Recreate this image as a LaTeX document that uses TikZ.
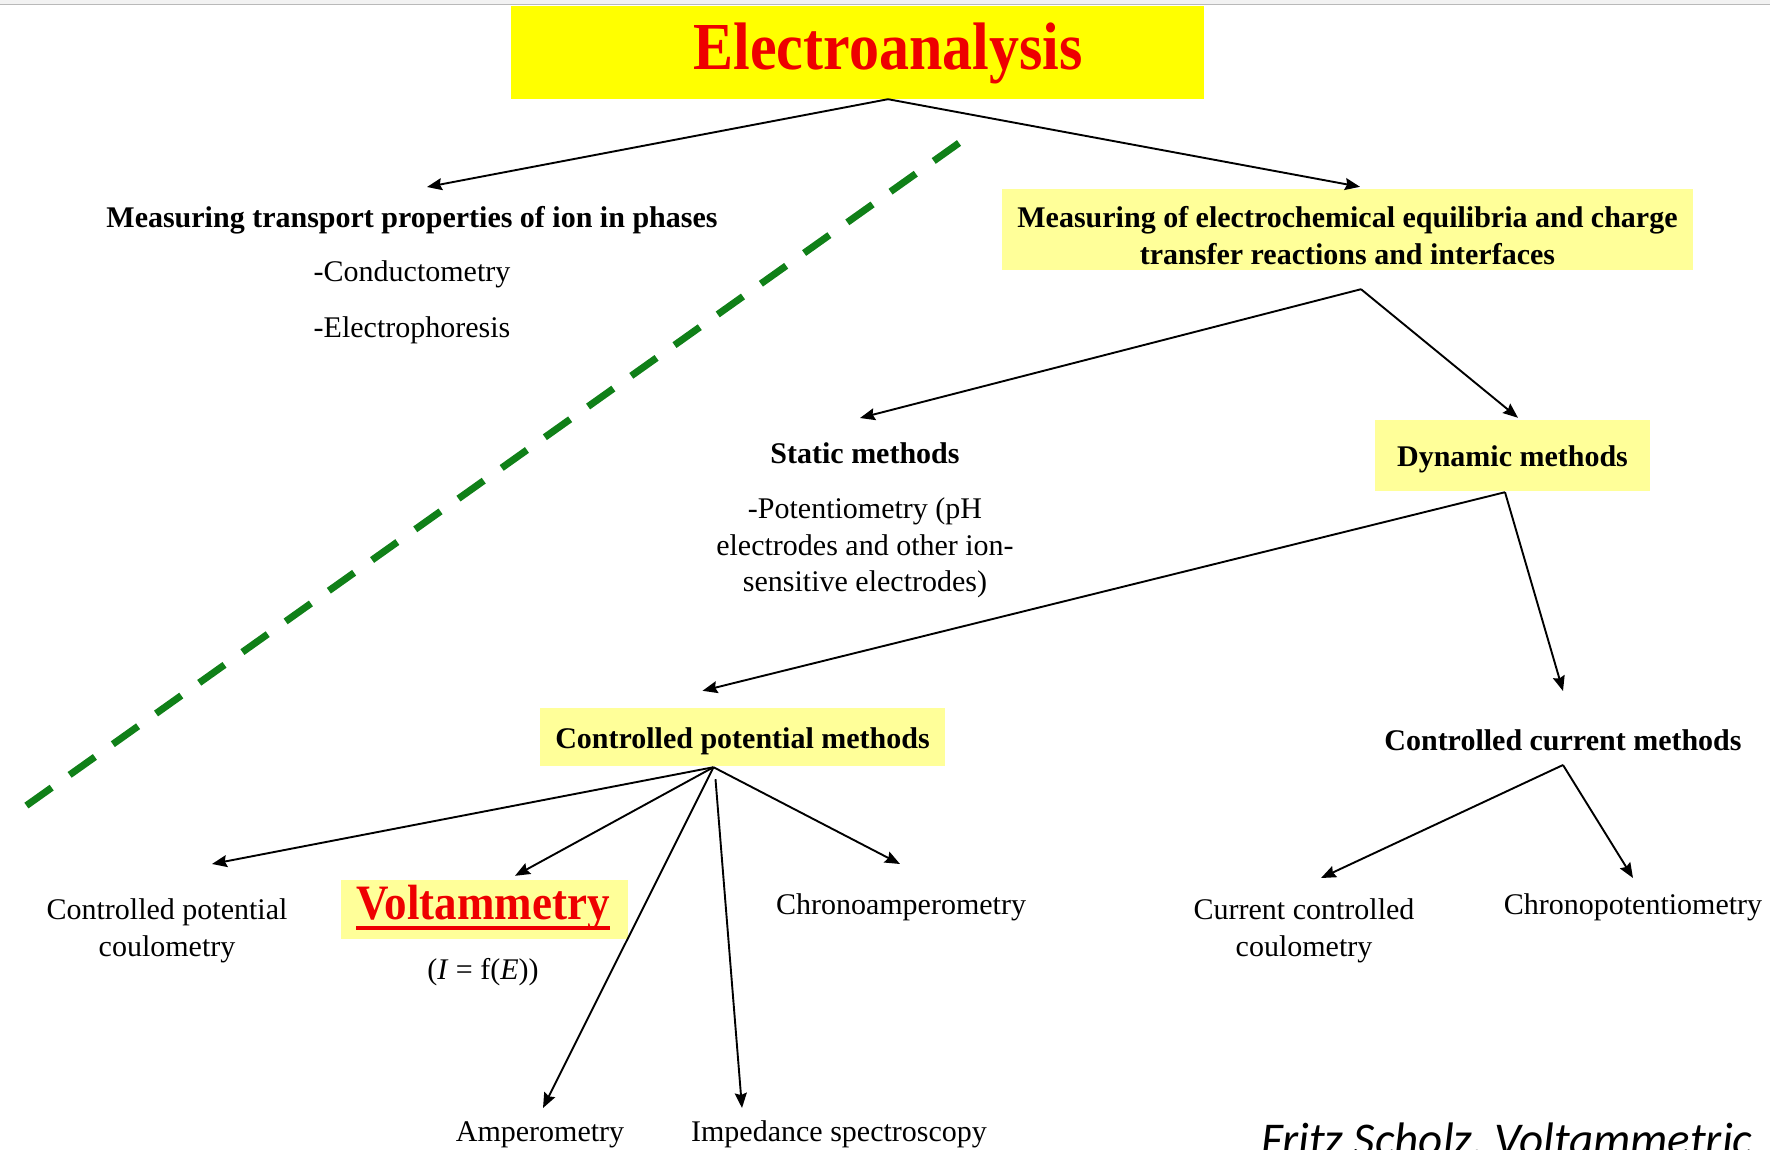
\documentclass[tikz,border=0pt]{standalone}
\usepackage{fontspec}
\setmainfont{Liberation Serif}
\newfontfamily\calibfont{Carlito}
\usetikzlibrary{arrows.meta,calc}
\definecolor{paleyellow}{RGB}{255,255,153}
\definecolor{titleyellow}{RGB}{255,255,0}
\definecolor{titlered}{RGB}{238,0,0}
\definecolor{dashgreen}{RGB}{16,128,24}
\begin{document}
\begin{tikzpicture}[x=1pt,y=-1pt,
  txt/.style={font=\fontsize{30}{36.5}\selectfont, inner sep=0pt, align=center, text=black},
  btxt/.style={font=\fontsize{30}{37}\selectfont\bfseries, inner sep=0pt, align=center, text=black},
  ybox/.style={fill=paleyellow, draw=none, inner sep=0pt},
  arr/.style={-{Stealth[length=15pt,width=12pt,inset=2pt]}, line width=1.9pt, black},
  sep/.style={dashgreen, line width=7pt, dash pattern=on 31pt off 22pt}
]
\useasboundingbox (0,0) rectangle (1770,1149);
\fill[gray!10] (0,0) rectangle (1770,4);
\draw[gray!55, line width=1.5pt] (0,4.5) -- (1770,4.5);

% title
\node[fill=titleyellow, minimum width=693pt, minimum height=93pt, inner sep=0pt] (titlebox) at (857.5,52.5) {};
\node[font=\fontsize{60}{70}\selectfont\bfseries, text=titlered, inner sep=0pt, anchor=base] (title) at (888,69) {\scalebox{1}[1.12]{Electroanalysis}};

% first level
\node[btxt, anchor=base] (transport) at (412,227) {Measuring transport properties of ion in phases};
\node[txt, anchor=base] (cond) at (412,281) {-Conductometry};
\node[txt, anchor=base] (elph) at (412,337) {-Electrophoresis};

\node[ybox, minimum width=691pt, minimum height=81pt] (equilbox) at (1347.5,229.5) {};
\node[btxt] (equil) at (1347.5,235.5) {Measuring of electrochemical equilibria and charge\\transfer reactions and interfaces};

% second level
\node[btxt, anchor=base] (static) at (865,463) {Static methods};
\node[txt, anchor=north] (potent) at (865,497.5) {-Potentiometry (pH\\electrodes and other ion-\\sensitive electrodes)};

\node[ybox, minimum width=275pt, minimum height=71pt] (dynbox) at (1512.5,455.5) {};
\node[btxt] (dyn) at (1512.5,459) {Dynamic methods};

% third level
\node[ybox, minimum width=405pt, minimum height=58pt] (cpmbox) at (742.5,737) {};
\node[btxt] (cpm) at (742.5,741.5) {Controlled potential methods};
\node[btxt, anchor=base] (ccm) at (1563,750) {Controlled current methods};

% leaves
\node[txt, anchor=north] (cpc) at (167,898.5) {Controlled potential\\coulometry};
\node[ybox, minimum width=287pt, minimum height=59pt] (voltbox) at (484.5,909.5) {};
\node[font=\fontsize{45}{50}\selectfont\bfseries, text=titlered, inner sep=0pt, anchor=base] (volt) at (483,919) {\scalebox{1}[1.1]{Voltammetry}};
\draw[titlered, line width=4pt] ($(volt.base west)+(0,9)$) -- ($(volt.base east)+(0,9)$);
\node[txt, anchor=base] (ife) at (483,979) {(\textit{I} = f(\textit{E}))};
\node[txt, anchor=base] (chrono) at (901,914) {Chronoamperometry};
\node[txt, anchor=base] (amp) at (540,1141) {Amperometry};
\node[txt, anchor=base] (imp) at (839,1141) {Impedance spectroscopy};
\node[txt, anchor=north] (ccc) at (1304,898.5) {Current controlled\\coulometry};
\node[txt, anchor=base] (chronopot) at (1633,914) {Chronopotentiometry};

\node[font=\calibfont\itshape\fontsize{47}{56}\selectfont, inner sep=0pt, anchor=base west, text=black] (fritz) at (1261,1155) {Fritz Scholz, Voltammetric};

% separator
\draw[sep] (959,143) -- (23,808);

% connectors
\coordinate (o1) at (title |- titlebox.south);
\draw[arr] (o1) -- ($(transport.base)+(15,-40)$);
\draw[arr] (o1) -- ($(equilbox.north)+(12.5,-2)$);

\coordinate (o2) at ($(equilbox.south)+(13.5,19)$);
\draw[arr] (o2) -- ($(static.base)+(-5,-45)$);
\draw[arr] (o2) -- ($(dynbox.north)+(5.5,-2)$);

\coordinate (o3) at ($(dynbox.south)+(-7.5,1)$);
\draw[arr] (o3) -- ($(cpmbox.north)+(-40,-17)$);
\draw[arr] (o3) -- ($(ccm.base)+(0,-59)$);

\coordinate (o4) at ($(cpmbox.south)+(-29,1)$);
\draw[arr] (o4) -- ($(cpc.north)+(45,-34.5)$);
\draw[arr] (o4) -- ($(voltbox.north)+(30.5,-4)$);
\draw[arr] (o4) -- ($(amp.base)+(3,-33)$);
\draw[arr] ($(o4)+(2,12)$) -- ($(imp.base)+(-97,-33)$);
\draw[arr] (o4) -- ($(chrono.base)+(-1,-50)$);

\coordinate (o5) at ($(ccm.base)+(0,15)$);
\draw[arr] (o5) -- ($(ccc.north)+(17,-20.5)$);
\draw[arr] (o5) -- ($(chronopot.base)+(0,-36)$);
\end{tikzpicture}
\end{document}
